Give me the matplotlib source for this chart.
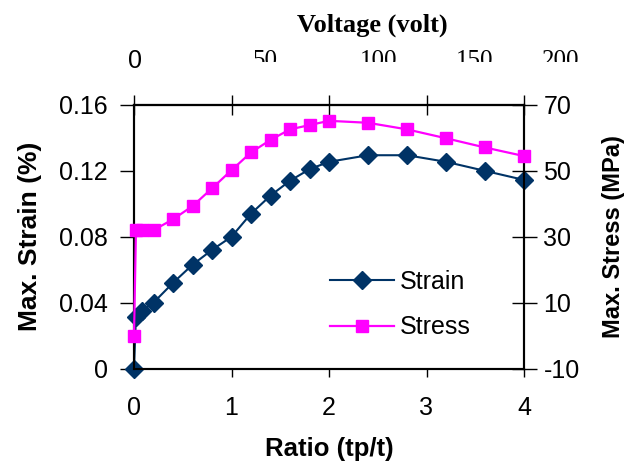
import matplotlib
matplotlib.use("Agg")
import matplotlib.pyplot as plt
from matplotlib.transforms import Bbox

plt.rcParams['font.family'] = ['Liberation Sans', 'DejaVu Sans']
plt.rcParams['axes.unicode_minus'] = False

# data
ratio = [0, 0.02, 0.08, 0.2, 0.4, 0.6, 0.8, 1.0, 1.2, 1.4, 1.6, 1.8, 2.0, 2.4, 2.8, 3.2, 3.6, 4.0]
strain = [0, 0.031, 0.035, 0.040, 0.052, 0.063, 0.072, 0.080, 0.094, 0.105, 0.114,
          0.121, 0.1255, 0.1295, 0.1295, 0.1255, 0.120, 0.1145]
stress = [0, 32, 32, 32, 35.3, 39.3, 44.7, 50.2, 55.6, 59.4, 62.6, 63.9, 65.2,
          64.6, 62.6, 59.9, 57.1, 54.5]

ratio_ticks = [0, 1, 2, 3, 4]
strain_ticks = [0, 0.04, 0.08, 0.12, 0.16]
strain_labels = ['0', '0.04', '0.08', '0.12', '0.16']
stress_ticks = [-10, 10, 30, 50, 70]
voltage_labels = ['0', '50', '100', '150', '200']
# where the voltage labels sit along the top (pixels from the left)
voltage_pos = [135, 265, 379, 475, 561]

W, H = 631, 475
fig = plt.figure(figsize=(W / 100, H / 100), dpi=100)
ax = fig.add_axes([134 / W, 1 - 368.5 / H, 390 / W, 263.5 / H])
ax2 = ax.twinx()

navy = '#003366'
magenta = '#FF00FF'

l1, = ax.plot(ratio, strain, color=navy, lw=1.5, marker='D', ms=9,
              label='Strain', clip_on=False, zorder=3)
l2, = ax2.plot(ratio, stress, color=magenta, lw=1.6, marker='s', ms=9,
               label='Stress', clip_on=False, zorder=3)

ax.set_xlim(0, 4)
ax.set_ylim(0, 0.16)
ax2.set_ylim(-10, 70)

ax.set_xticks(ratio_ticks)
ax.set_xticklabels([str(t) for t in ratio_ticks])
ax.set_yticks(strain_ticks)
ax.set_yticklabels(strain_labels)
ax2.set_yticks(stress_ticks)

ax.tick_params(axis='x', direction='out', length=6, width=1, labelsize=18, pad=14)
ax.tick_params(axis='y', direction='out', length=10, width=1, labelsize=18, pad=9)
ax2.tick_params(axis='y', direction='inout', length=18, width=1, labelsize=18, pad=5)

top = ax.secondary_xaxis('top')
top.set_xticks(ratio_ticks)
top.tick_params(direction='inout', length=14, width=1, labeltop=False)

for a in (ax, ax2):
    for s in a.spines.values():
        s.set_linewidth(1.5)
top.spines['top'].set_linewidth(1.5)

ax.set_xlabel('Ratio (tp/t)', fontsize=18.5, fontweight='bold', labelpad=12)
ax.set_ylabel('Max. Strain (%)', fontsize=19, fontweight='bold', labelpad=12)
ax2.set_ylabel('Max. Stress (MPa)', fontsize=17, fontweight='bold', labelpad=16)

# top axis title and its labels (all but the first are cut off at the bottom)
fig.text(372 / W, 1 - 32 / H, 'Voltage (volt)', family='Liberation Serif',
         fontsize=19, fontweight='bold', ha='center', va='baseline')
clip = Bbox([[0, H - 62], [W, H]])
for i, (lab, xp) in enumerate(zip(voltage_labels, voltage_pos)):
    if i == 0:
        fig.text(xp / W, 1 - 61 / H, lab, fontsize=18, ha='center', va='center')
    else:
        t = fig.text(xp / W, 1 - 67 / H, lab, family='Liberation Serif',
                     fontsize=18, ha='center', va='baseline')
        t.set_clip_box(clip)
        t.set_clip_on(True)

ax2.legend(handles=[l1, l2], loc='upper left', bbox_to_anchor=(330 / W, 1 - 270 / H),
           bbox_transform=fig.transFigure, frameon=False, fontsize=18,
           handlelength=2.55, handletextpad=0.25, labelspacing=0.85,
           borderpad=0, borderaxespad=0)

fig.savefig('out.png', dpi=100)
